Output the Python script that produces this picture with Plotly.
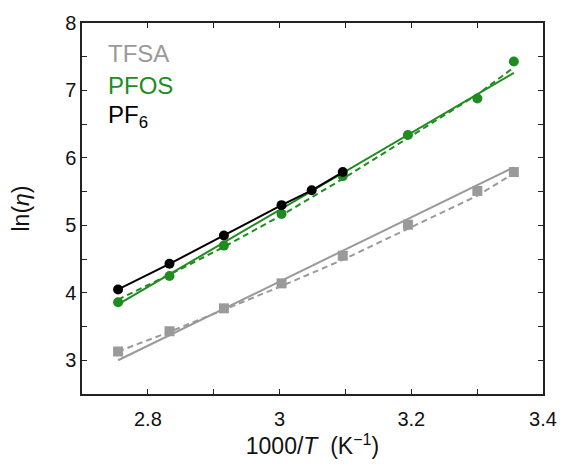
import plotly.graph_objects as go

# Temperatures (K) -> 1000/T
temps_pf6 = [363, 353, 343, 333, 328, 323]
temps_all = [363, 353, 343, 333, 323, 313, 303, 298]

ln_eta_pf6 = [4.05, 4.43, 4.85, 5.30, 5.52, 5.79]
ln_eta_pfos = [3.86, 4.25, 4.70, 5.17, 5.73, 6.34, 6.88, 7.43]
ln_eta_tfsa = [3.13, 3.43, 3.77, 4.14, 4.55, 5.01, 5.51, 5.79]

# Fit curves
fit_temps_lin = [363, 298]
pfos_lin_fit = [3.83, 7.26]
tfsa_lin_fit = [3.00, 5.86]
pfos_dash_fit = [3.90, 4.27, 4.68, 5.15, 5.69, 6.30, 6.94, 7.34]
tfsa_dash_fit = [3.13, 3.42, 3.75, 4.10, 4.49, 4.95, 5.44, 5.77]

labels = ["TFSA", "PFOS", "PF<sub>6</sub>"]

GRAY = "#9a9a9a"
GREEN = "#1f8c1f"
BLACK = "#000000"

def inv(ts):
    return [1000.0 / t for t in ts]

fig = go.Figure()

fig.add_trace(go.Scatter(x=inv(fit_temps_lin), y=tfsa_lin_fit, mode="lines",
                         line=dict(color=GRAY, width=2)))
fig.add_trace(go.Scatter(x=inv(temps_all), y=tfsa_dash_fit, mode="lines",
                         line=dict(color=GRAY, width=2, dash="6px,4px")))
fig.add_trace(go.Scatter(x=inv(temps_all), y=ln_eta_tfsa, mode="markers",
                         marker=dict(color=GRAY, symbol="square", size=10)))

fig.add_trace(go.Scatter(x=inv(fit_temps_lin), y=pfos_lin_fit, mode="lines",
                         line=dict(color=GREEN, width=2)))
fig.add_trace(go.Scatter(x=inv(temps_all), y=pfos_dash_fit, mode="lines",
                         line=dict(color=GREEN, width=2, dash="6px,4px")))
fig.add_trace(go.Scatter(x=inv(temps_all), y=ln_eta_pfos, mode="markers",
                         marker=dict(color=GREEN, symbol="circle", size=10)))

fig.add_trace(go.Scatter(x=inv(temps_pf6), y=ln_eta_pf6, mode="lines+markers",
                         line=dict(color=BLACK, width=2),
                         marker=dict(color=BLACK, symbol="circle", size=10)))

font_family = "Liberation Sans, Arial, Helvetica, sans-serif"
for lab, col, yy in zip(labels, [GRAY, GREEN, BLACK], [7.55, 7.08, 6.62]):
    fig.add_annotation(x=2.737, y=yy, text=lab, showarrow=False, xanchor="left",
                       yanchor="middle", font=dict(size=24, color=col, family=font_family))

axis_common = dict(
    showline=True, linecolor="#222222", linewidth=1.5, mirror="ticks",
    ticks="inside", ticklen=5, tickwidth=1, tickcolor="#222222",
    showgrid=False, zeroline=False,
    tickfont=dict(size=20, color="#111111", family=font_family),
)

fig.update_xaxes(range=[2.7, 3.4], tickvals=[2.8, 3.0, 3.2, 3.4],
                 ticktext=["2.8", "3", "3.2", "3.4"], ticklabelstandoff=6,
                 minor=dict(tickvals=[2.9, 3.1, 3.3], ticks="inside", ticklen=5,
                            tickcolor="#222222"),
                 title=dict(text="1000/<i>T</i>\u00a0\u00a0(K<sup>−1</sup>)", standoff=8,
                            font=dict(size=23, color="#111111", family=font_family)),
                 **axis_common)
fig.update_yaxes(range=[2.5, 8], tickvals=[3, 4, 5, 6, 7, 8],
                 minor=dict(tickvals=[2.5, 3.5, 4.5, 5.5, 6.5, 7.5], ticks="inside",
                            ticklen=5, tickcolor="#222222"),
                 title=dict(text="ln(<i>η</i>)", standoff=29,
                            font=dict(size=23, color="#111111", family=font_family)),
                 **axis_common)

fig.update_layout(
    width=569, height=470,
    margin=dict(l=82, r=22, t=22, b=76),
    plot_bgcolor="white", paper_bgcolor="white",
    showlegend=False,
)

fig.write_html("out.html")
